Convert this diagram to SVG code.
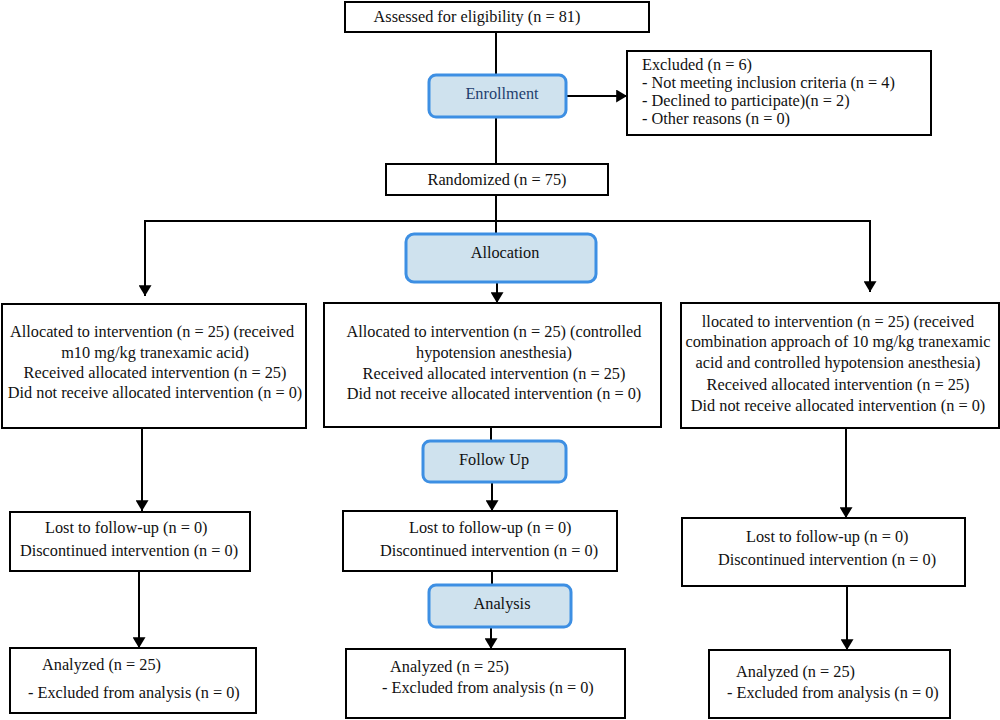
<svg xmlns="http://www.w3.org/2000/svg" width="1000" height="720" viewBox="0 0 1000 720">
<defs>
<marker id="ah" viewBox="0 0 10 12" refX="10" refY="6" markerWidth="5.5" markerHeight="6.5" orient="auto" markerUnits="strokeWidth">
<path d="M0,0 L10,6 L0,12 Z" fill="#000"/>
</marker>
</defs>
<style>
.box{fill:#fff;stroke:#000;stroke-width:2}
.stage{fill:#cfe2ee;stroke:#3d8fe3;stroke-width:3}
text{font-family:"Liberation Serif","DejaVu Serif",serif;font-size:16.3px;fill:#111}
.c{text-anchor:middle}
.st{fill:#1f3f6e}
.ln{fill:none;stroke:#000;stroke-width:2}
</style>
<rect width="1000" height="720" fill="#fff"/>
<g id="connectors">
<line class="ln" x1="496" y1="32" x2="496" y2="75"/>
<line class="ln" x1="496" y1="117" x2="496" y2="164"/>
<line class="ln" x1="566" y1="96" x2="627" y2="96" marker-end="url(#ah)"/>
<line class="ln" x1="496" y1="195" x2="496" y2="234"/>
<line class="ln" x1="145" y1="221" x2="870" y2="221"/>
<line class="ln" x1="145" y1="220" x2="145" y2="296" marker-end="url(#ah)"/>
<line class="ln" x1="870" y1="220" x2="870" y2="292" marker-end="url(#ah)"/>
<line class="ln" x1="497" y1="282" x2="497" y2="303" marker-end="url(#ah)"/>
<line class="ln" x1="142" y1="428" x2="142" y2="511" marker-end="url(#ah)"/>
<line class="ln" x1="139" y1="571" x2="139" y2="648" marker-end="url(#ah)"/>
<line class="ln" x1="491" y1="427" x2="491" y2="441"/>
<line class="ln" x1="492" y1="482" x2="492" y2="511" marker-end="url(#ah)"/>
<line class="ln" x1="492" y1="571" x2="492" y2="585"/>
<line class="ln" x1="491" y1="627" x2="491" y2="649" marker-end="url(#ah)"/>
<line class="ln" x1="846" y1="428" x2="846" y2="518" marker-end="url(#ah)"/>
<line class="ln" x1="847" y1="586" x2="847" y2="650" marker-end="url(#ah)"/>
</g>
<g id="assessed">
<rect class="box" x="345" y="2" width="304" height="30"/>
<text class="c" x="477" y="22">Assessed for eligibility (n = 81)</text>
</g>
<g id="enrollment">
<rect class="stage" x="429" y="75" width="137" height="42" rx="7"/>
<text class="c st" x="502" y="99">Enrollment</text>
</g>
<g id="excluded">
<rect class="box" x="627" y="51" width="304" height="84"/>
<text x="642" y="70">Excluded (n = 6)</text>
<text x="642" y="88">- Not meeting inclusion criteria (n = 4)</text>
<text x="642" y="106">- Declined to participate)(n = 2)</text>
<text x="642" y="124">- Other reasons (n = 0)</text>
</g>
<g id="randomized">
<rect class="box" x="386" y="164" width="222" height="31"/>
<text class="c" x="497" y="185">Randomized (n = 75)</text>
</g>
<g id="allocation">
<rect class="stage" x="406" y="234" width="190" height="48" rx="8"/>
<text class="c" x="505" y="258">Allocation</text>
</g>
<g id="alloc-left">
<rect class="box" x="2" y="304" width="304" height="124"/>
<text class="c" x="152" y="337">Allocated to intervention (n = 25) (received</text>
<text class="c" x="155" y="358">m10 mg/kg tranexamic acid)</text>
<text class="c" x="155" y="378">Received allocated intervention (n = 25)</text>
<text class="c" x="155" y="398">Did not receive allocated intervention (n = 0)</text>
</g>
<g id="alloc-mid">
<rect class="box" x="324" y="303" width="337" height="124"/>
<text class="c" x="494" y="337">Allocated to intervention (n = 25) (controlled</text>
<text class="c" x="494" y="358">hypotension anesthesia)</text>
<text class="c" x="494" y="379">Received allocated intervention (n = 25)</text>
<text class="c" x="494" y="399">Did not receive allocated intervention (n = 0)</text>
</g>
<g id="alloc-right">
<rect class="box" x="681" y="303" width="318" height="125"/>
<text class="c" x="838" y="327">llocated to intervention (n = 25) (received</text>
<text class="c" x="838" y="347">combination approach of 10 mg/kg tranexamic</text>
<text class="c" x="838" y="368">acid and controlled hypotension anesthesia)</text>
<text class="c" x="838" y="390">Received allocated intervention (n = 25)</text>
<text class="c" x="838" y="411">Did not receive allocated intervention (n = 0)</text>
</g>
<g id="followup">
<rect class="stage" x="423" y="441" width="143" height="41" rx="7"/>
<text class="c" x="494" y="465">Follow Up</text>
</g>
<g id="lost-left">
<rect class="box" x="10" y="512" width="240" height="59"/>
<text x="45" y="533">Lost to follow-up (n = 0)</text>
<text x="20" y="556">Discontinued intervention (n = 0)</text>
</g>
<g id="lost-mid">
<rect class="box" x="343" y="511" width="274" height="60"/>
<text x="409" y="533">Lost to follow-up (n = 0)</text>
<text x="380" y="556">Discontinued intervention (n = 0)</text>
</g>
<g id="lost-right">
<rect class="box" x="682" y="518" width="283" height="68"/>
<text x="746" y="542">Lost to follow-up (n = 0)</text>
<text x="718" y="565">Discontinued intervention (n = 0)</text>
</g>
<g id="analysis">
<rect class="stage" x="429" y="585" width="142" height="42" rx="7"/>
<text class="c" x="502" y="609">Analysis</text>
</g>
<g id="analyzed-left">
<rect class="box" x="10" y="648" width="246" height="65"/>
<text x="42" y="670">Analyzed (n = 25)</text>
<text x="28" y="698">- Excluded from analysis (n = 0)</text>
</g>
<g id="analyzed-mid">
<rect class="box" x="346" y="649" width="279" height="69"/>
<text x="390" y="672">Analyzed (n = 25)</text>
<text x="382" y="693">- Excluded from analysis (n = 0)</text>
</g>
<g id="analyzed-right">
<rect class="box" x="709" y="650" width="241" height="68"/>
<text x="736" y="677">Analyzed (n = 25)</text>
<text x="727" y="698">- Excluded from analysis (n = 0)</text>
</g>
</svg>
